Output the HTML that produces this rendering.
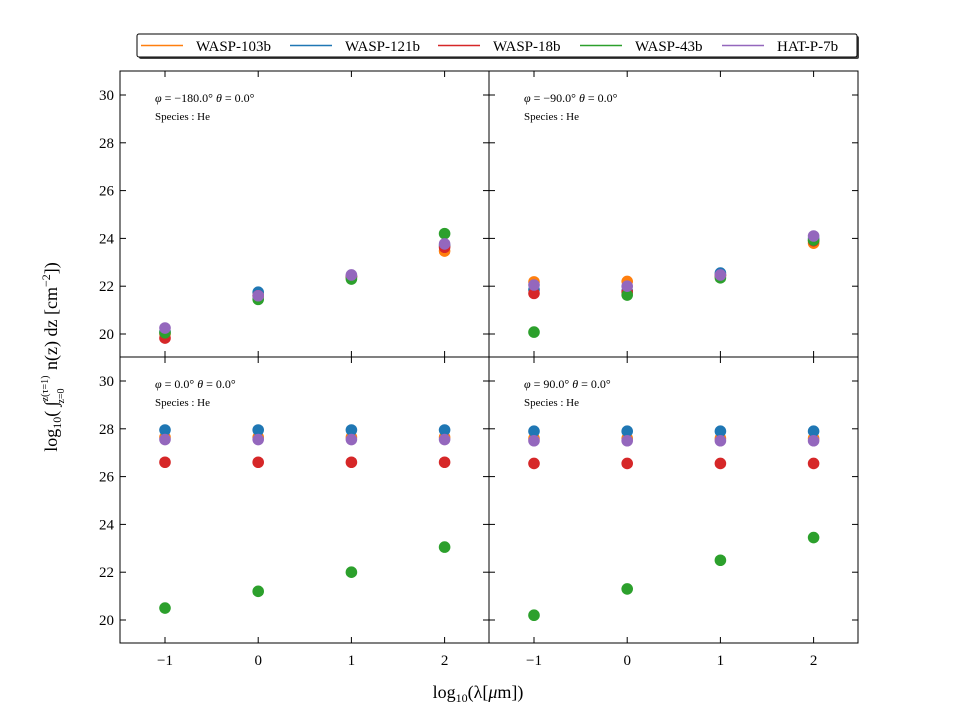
<!DOCTYPE html>
<html><head><meta charset="utf-8"><style>
body{margin:0;background:#fff;}
svg{display:block;font-family:"Liberation Serif",serif;}
</style></head><body>
<svg id="chart" width="955" height="716" xmlns="http://www.w3.org/2000/svg">
<g id="legend">
<rect x="139" y="36" width="720" height="23" fill="#444" rx="2"/>
<rect x="137" y="34" width="720" height="23" fill="#fff" stroke="#000" stroke-width="1" rx="2"/>
</g>
<g id="panels"></g>
<text x="478" y="698" text-anchor="middle" font-size="18">log<tspan font-size="12" dy="4">10</tspan><tspan dy="-4">(λ[</tspan><tspan font-style="italic">μ</tspan>m])</text>
<text transform="translate(57,357) rotate(-90)" text-anchor="middle" font-size="18">log<tspan font-size="12" dy="4">10</tspan><tspan dy="-4">( ∫</tspan><tspan font-size="10" dy="-9">z(τ=1)</tspan><tspan font-size="10" dx="-28" dy="16">z=0</tspan><tspan dy="-7" dx="14"> n(z) dz [cm</tspan><tspan font-size="12" dy="-7">−2</tspan><tspan dy="7">])</tspan></text>
</svg>
<script>
const seriesNames=["WASP-103b","WASP-121b","WASP-18b","WASP-43b","HAT-P-7b"];
const colors=["#ff7f0e","#1f77b4","#d62728","#2ca02c","#9467bd"];
const xCats=[-1,0,1,2];
const xTicks=[-1,0,1,2];
const yTicks=[20,22,24,26,28,30];
const panelPhi=["−180.0","−90.0","0.0","90.0"];
// values per panel: [series][x]
const p1=[[20.0,21.6,22.4,23.47],[20.1,21.75,22.4,23.7],[19.83,21.6,22.4,23.63],[20.05,21.45,22.3,24.2],[20.25,21.6,22.47,23.77]];
const p2=[[22.18,22.2,22.45,23.8],[21.85,21.8,22.55,24.0],[21.7,21.75,22.45,23.9],[20.08,21.63,22.35,23.93],[22.05,22.0,22.47,24.1]];
const p3=[[27.65,27.65,27.65,27.65],[27.95,27.95,27.95,27.95],[26.6,26.6,26.6,26.6],[20.5,21.2,22.0,23.05],[27.55,27.55,27.55,27.55]];
const p4=[[27.6,27.6,27.6,27.6],[27.9,27.9,27.9,27.9],[26.55,26.55,26.55,26.55],[20.2,21.3,22.5,23.45],[27.5,27.5,27.5,27.5]];
const panelData=[p1,p2,p3,p4];
const NS="http://www.w3.org/2000/svg";
const svg=document.getElementById('chart');
function mk(t,a,p){const e=document.createElementNS(NS,t);for(const k in a)e.setAttribute(k,a[k]);(p||svg).appendChild(e);return e;}
const lg=document.getElementById('legend');
const lx=[141,290,438,580,722];
seriesNames.forEach((n,i)=>{
 const l=mk('line',{x1:lx[i],x2:lx[i]+42,y1:45.5,y2:45.5,stroke:colors[i],'stroke-width':1.5},lg);
 
 
 const t=mk('text',{x:lx[i]+55,y:51,'font-size':15},lg);t.textContent=n;
 
 
});
const boxes=[[120,71],[489,71],[120,357],[489,357]];
const W=369,H=286;
const g=document.getElementById('panels');
panelData.forEach((data,pi)=>{
 const [bx,by]=boxes[pi];
 const X=v=>bx+45+(v+1)*93.2;
 const Y=v=>by+263-(v-20)*23.9;
 const pg=mk('g',{},g);
 
 
 const fr=mk('rect',{x:bx,y:by,width:W,height:H,fill:'none',stroke:'#000','stroke-width':1},pg);
 
 
 xTicks.forEach(v=>{
  mk('line',{x1:X(v),x2:X(v),y1:by,y2:by+6,stroke:'#000'},pg);
  mk('line',{x1:X(v),x2:X(v),y1:by+H,y2:by+H-6,stroke:'#000'},pg);
  if(pi>=2){const t=mk('text',{x:X(v),y:by+H+22,'font-size':15,'text-anchor':'middle'},pg);t.textContent=v<0?'−'+(-v):v;
   
   }
 });
 yTicks.forEach(v=>{
  mk('line',{x1:bx,x2:bx+6,y1:Y(v),y2:Y(v),stroke:'#000'},pg);
  mk('line',{x1:bx+W,x2:bx+W-6,y1:Y(v),y2:Y(v),stroke:'#000'},pg);
  if(pi%2==0){const t=mk('text',{x:bx-6,y:Y(v)+5,'font-size':15,'text-anchor':'end'},pg);t.textContent=v;
   
   }
 });
 const t1=mk('text',{x:bx+35,y:by+31,'font-size':12},pg);
 t1.innerHTML='<tspan font-style="italic">φ</tspan> = '+panelPhi[pi]+'° <tspan font-style="italic">θ</tspan> = 0.0°';
 
 
 const t2=mk('text',{x:bx+35,y:by+49,'font-size':11},pg);t2.textContent='Species : He';
 
 
 data.forEach((ser,si)=>{
  ser.forEach((v,xi)=>{
   const c=mk('circle',{cx:X(xCats[xi]),cy:Y(v),r:5.8,fill:colors[si]},pg);
   
   
  });
 });
});
</script>
</body></html>
